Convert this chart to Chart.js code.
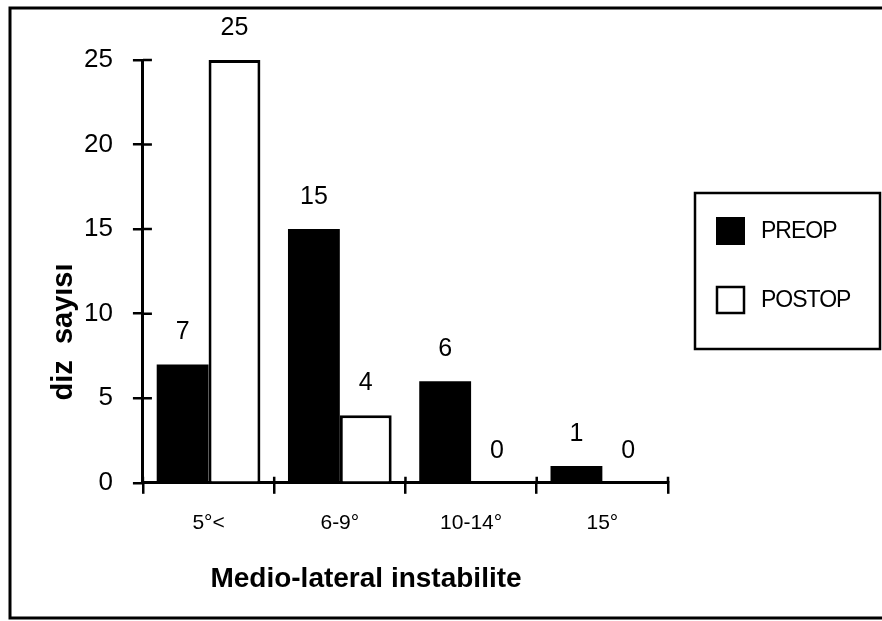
<!DOCTYPE html>
<html>
<head>
<meta charset="utf-8">
<script src="https://cdn.jsdelivr.net/npm/chart.js@4.4.1/dist/chart.umd.min.js"></script>
<style>
  html, body { margin: 0; padding: 0; background: #fff; }
  #wrap { width: 882px; height: 621px; }
</style>
</head>
<body>
<div id="wrap"><canvas id="instabilityChart"></canvas></div>
<script>
const categories = ['5°<', '6-9°', '10-14°', '15°'];
const preopCounts = [7, 15, 6, 1];
const postopCounts = [25, 4, 0, 0];
const yTickValues = [0, 5, 10, 15, 20, 25];

const yAxisTitle = 'diz  sayısı';
const xAxisTitle = 'Medio-lateral instabilite';

const FONT = "'Liberation Sans', Arial, Helvetica, sans-serif";

// outer frame of the scanned figure (no right edge in the scan)
const framePlugin = {
  id: 'frame',
  afterDraw(chart) {
    const ctx = chart.ctx;
    ctx.save();
    ctx.strokeStyle = '#000';
    ctx.lineWidth = 3;
    ctx.beginPath();
    ctx.moveTo(882, 8);
    ctx.lineTo(10, 8);
    ctx.lineTo(10, 618);
    ctx.lineTo(882, 618);
    ctx.stroke();
    ctx.restore();
  }
};

// tick marks cross the axis lines, chart.js only draws the outer half
const crossTicksPlugin = {
  id: 'crossTicks',
  afterDraw(chart) {
    const ctx = chart.ctx;
    const x = chart.scales.x;
    const y = chart.scales.y;
    ctx.save();
    ctx.strokeStyle = '#000';
    ctx.lineWidth = 2.5;
    ctx.beginPath();
    y.ticks.forEach(t => {
      const py = y.getPixelForValue(t.value);
      ctx.moveTo(y.right, py);
      ctx.lineTo(y.right + 9, py);
    });
    for (let i = 0; i <= categories.length; i++) {
      const px = x.getPixelForValue(i - 0.5);
      ctx.moveTo(px, x.top);
      ctx.lineTo(px, x.top - 6);
    }
    ctx.stroke();
    ctx.restore();
  }
};

const valueLabelsPlugin = {
  id: 'valueLabels',
  afterDatasetsDraw(chart) {
    const ctx = chart.ctx;
    ctx.save();
    ctx.fillStyle = '#000';
    ctx.font = '25px ' + FONT;
    ctx.textAlign = 'center';
    ctx.textBaseline = 'alphabetic';
    chart.data.datasets.forEach((ds, di) => {
      chart.getDatasetMeta(di).data.forEach((bar, i) => {
        ctx.fillText(String(ds.data[i]), bar.x, bar.y - 25);
      });
    });
    ctx.restore();
  }
};

// axis titles sit off-centre in the original, so they are placed by hand
const axisTitlesPlugin = {
  id: 'axisTitles',
  afterDraw(chart) {
    const ctx = chart.ctx;
    ctx.save();
    ctx.fillStyle = '#000';
    ctx.textAlign = 'center';
    ctx.textBaseline = 'middle';
    ctx.font = 'bold 28px ' + FONT;
    ctx.fillText(xAxisTitle, 366, 579);
    ctx.translate(64, 332);
    ctx.rotate(-Math.PI / 2);
    ctx.font = 'bold 29px ' + FONT;
    ctx.fillText(yAxisTitle, 0, 0);
    ctx.restore();
  }
};

const boxLegendPlugin = {
  id: 'boxLegend',
  afterDraw(chart) {
    const ctx = chart.ctx;
    ctx.save();
    ctx.strokeStyle = '#000';
    ctx.lineWidth = 2.5;
    ctx.strokeRect(695, 193, 185, 156);
    ctx.font = '23px ' + FONT;
    ctx.letterSpacing = '-1px';
    ctx.textAlign = 'left';
    ctx.textBaseline = 'middle';
    const rows = [231, 300];
    chart.data.datasets.forEach((ds, i) => {
      const cy = rows[i];
      ctx.fillStyle = ds.backgroundColor;
      ctx.fillRect(716, cy - 14, 29, 28);
      if (ds.borderWidth) {
        ctx.lineWidth = 2.5;
        ctx.strokeRect(717, cy - 13, 27, 26);
      }
      ctx.fillStyle = '#000';
      ctx.fillText(ds.label, 761, cy + 1);
    });
    ctx.restore();
  }
};

const ctx = document.getElementById('instabilityChart').getContext('2d');
const instabilityChart = new Chart(ctx, {
  type: 'bar',
  data: {
    labels: categories,
    datasets: [
      {
        label: 'PREOP',
        data: preopCounts,
        backgroundColor: '#000',
        borderWidth: 0
      },
      {
        label: 'POSTOP',
        data: postopCounts,
        backgroundColor: '#fff',
        borderColor: '#000',
        borderWidth: 3
      }
    ]
  },
  options: {
    responsive: true,
    maintainAspectRatio: false,
    animation: false,
    categoryPercentage: 0.79,
    barPercentage: 1.0,
    layout: {
      padding: { left: 64, right: 214, top: 60, bottom: 68 }
    },
    plugins: {
      legend: { display: false },
      tooltip: { enabled: false }
    },
    scales: {
      x: {
        grid: {
          offset: true,
          drawOnChartArea: false,
          color: '#000',
          lineWidth: 2.5,
          tickLength: 11
        },
        border: { color: '#000', width: 3 },
        ticks: {
          color: '#000',
          padding: 17,
          font: { family: FONT, size: 21 }
        }
      },
      y: {
        min: 0,
        max: 25,
        afterBuildTicks(scale) {
          scale.ticks = yTickValues.map(v => ({ value: v }));
        },
        grid: {
          drawOnChartArea: false,
          color: '#000',
          lineWidth: 2.5,
          tickLength: 10
        },
        border: { color: '#000', width: 3 },
        ticks: {
          color: '#000',
          padding: 20,
          font: { family: FONT, size: 26 }
        }
      }
    }
  },
  plugins: [framePlugin, crossTicksPlugin, valueLabelsPlugin, axisTitlesPlugin, boxLegendPlugin]
});
</script>
</body>
</html>
